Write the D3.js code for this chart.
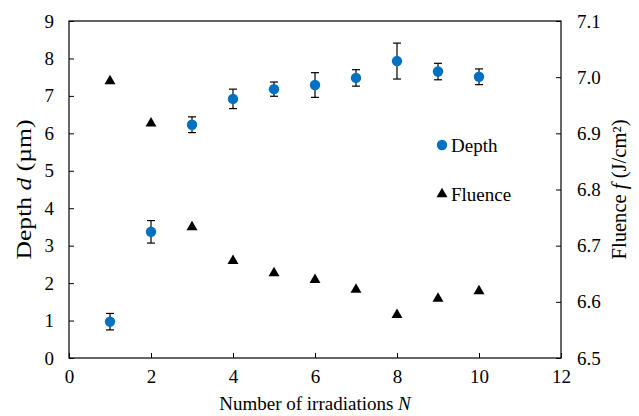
<!DOCTYPE html>
<html>
<head>
<meta charset="utf-8">
<script src="https://cdn.jsdelivr.net/npm/d3@7"></script>
<style>
  html, body { margin: 0; padding: 0; background: #fff; }
  svg text { font-family: 'Liberation Serif', 'Times New Roman', Tinos, 'DejaVu Serif', serif; fill: #000; }
</style>
</head>
<body>
<svg id="chart" width="639" height="416"></svg>
<script>
// Number of irradiations
const irradiations = [1, 2, 3, 4, 5, 6, 7, 8, 9, 10];
// Depth d (µm) with its error
const depth    = [0.97, 3.37, 6.23, 6.92, 7.18, 7.29, 7.48, 7.93, 7.65, 7.51];
const depthErr = [0.22, 0.30, 0.21, 0.26, 0.19, 0.33, 0.22, 0.48, 0.22, 0.21];
// Fluence f (J/cm²)
const fluence  = [6.993, 6.918, 6.733, 6.673, 6.651, 6.639, 6.622, 6.577, 6.606, 6.619];

const xTicks = [0, 2, 4, 6, 8, 10, 12];
const yLeftTicks = [0, 1, 2, 3, 4, 5, 6, 7, 8, 9];
const yRightTicks = [6.5, 6.6, 6.7, 6.8, 6.9, 7.0, 7.1];

const serif = "'Liberation Serif', 'Times New Roman', Tinos, 'DejaVu Serif', serif";

const svg = d3.select("#chart").attr("font-family", serif);
const m = { left: 69, right: 561, top: 21, bottom: 358 };

const x = d3.scaleLinear().domain([0, 12]).range([m.left, m.right]);
const yL = d3.scaleLinear().domain([0, 9]).range([m.bottom, m.top]);
const yR = d3.scaleLinear().domain([6.5, 7.1]).range([m.bottom, m.top]);

const fontSize = 19;
const tickLen = 5;

// plot frame
svg.append("rect")
  .attr("x", m.left).attr("y", m.top)
  .attr("width", m.right - m.left).attr("height", m.bottom - m.top)
  .attr("fill", "none").attr("stroke", "#000").attr("stroke-width", 1.2);

function styleAxis(g) {
  g.attr("font-family", serif).attr("font-size", fontSize);
  g.select(".domain").remove();
  g.selectAll(".tick line").attr("stroke", "#000").attr("stroke-width", 1);
  g.selectAll(".tick text").attr("fill", "#000");
}

// bottom axis, ticks pointing into the plot
svg.append("g")
  .attr("transform", `translate(0,${m.bottom})`)
  .call(d3.axisBottom(x).tickValues(xTicks).tickSizeInner(-tickLen).tickSizeOuter(0).tickPadding(12))
  .call(styleAxis);

// left axis
svg.append("g")
  .attr("transform", `translate(${m.left},0)`)
  .call(d3.axisLeft(yL).tickValues(yLeftTicks).tickSizeInner(-tickLen).tickSizeOuter(0).tickPadding(15))
  .call(styleAxis);

// right axis
svg.append("g")
  .attr("transform", `translate(${m.right},0)`)
  .call(d3.axisRight(yR).tickValues(yRightTicks).tickFormat(d3.format(".1f"))
    .tickSizeInner(-tickLen).tickSizeOuter(0).tickPadding(16))
  .call(styleAxis);

// axis titles
const xTitle = svg.append("text")
  .attr("x", (m.left + m.right) / 2).attr("y", 410)
  .attr("text-anchor", "middle").attr("font-size", fontSize);
xTitle.append("tspan").text("Number of irradiations ");
xTitle.append("tspan").attr("font-style", "italic").text("N");

const yTitle = svg.append("text")
  .attr("transform", `translate(31,${(m.top + m.bottom) / 2}) rotate(-90)`)
  .attr("text-anchor", "middle").attr("font-size", 20)
  .attr("textLength", 140).attr("lengthAdjust", "spacingAndGlyphs");
yTitle.append("tspan").text("Depth ");
yTitle.append("tspan").attr("font-style", "italic").text("d");
yTitle.append("tspan").text(" (µm)");

const rTitle = svg.append("text")
  .attr("transform", `translate(626,${(m.top + m.bottom) / 2}) rotate(-90)`)
  .attr("text-anchor", "middle").attr("font-size", 20)
  .attr("textLength", 140).attr("lengthAdjust", "spacingAndGlyphs");
rTitle.append("tspan").text("Fluence ");
rTitle.append("tspan").attr("font-style", "italic").text("f");
rTitle.append("tspan").text(" (J/cm²)");

const blue = "#0070C0";
const tri = d3.symbol().type(d3.symbolTriangle).size(52);

// fluence markers
svg.append("g").selectAll("path")
  .data(irradiations)
  .join("path")
  .attr("d", tri)
  .attr("transform", (d, i) => `translate(${x(d)},${yR(fluence[i])})`)
  .attr("fill", "#000");

// depth error bars
const eb = svg.append("g").attr("stroke", "#000").attr("stroke-width", 1.2);
irradiations.forEach((n, i) => {
  const cx = x(n);
  const y1 = yL(depth[i] + depthErr[i]);
  const y0 = yL(depth[i] - depthErr[i]);
  eb.append("line").attr("x1", cx).attr("x2", cx).attr("y1", y1).attr("y2", y0);
  eb.append("line").attr("x1", cx - 4).attr("x2", cx + 4).attr("y1", y1).attr("y2", y1);
  eb.append("line").attr("x1", cx - 4).attr("x2", cx + 4).attr("y1", y0).attr("y2", y0);
});

// depth markers
svg.append("g").selectAll("circle")
  .data(irradiations)
  .join("circle")
  .attr("cx", d => x(d))
  .attr("cy", (d, i) => yL(depth[i]))
  .attr("r", 5.2)
  .attr("fill", blue);

// legend
const legend = svg.append("g");
legend.append("circle").attr("cx", 442).attr("cy", 145).attr("r", 5.2).attr("fill", blue);
legend.append("text").attr("x", 451).attr("y", 151.5).attr("font-size", fontSize).text("Depth");
legend.append("path").attr("d", tri).attr("transform", "translate(442,194)").attr("fill", "#000");
legend.append("text").attr("x", 451).attr("y", 200.5).attr("font-size", fontSize).text("Fluence");
</script>
</body>
</html>
